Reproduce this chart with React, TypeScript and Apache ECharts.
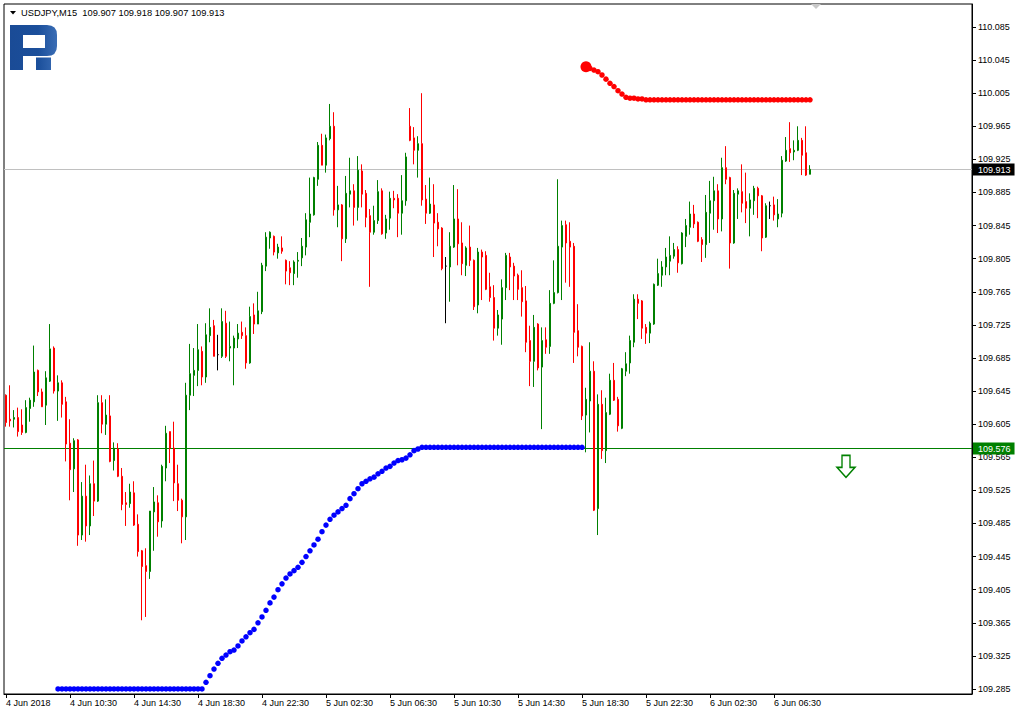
import React, { useEffect, useRef } from "react";
import * as echarts from "echarts";

// ---------- data ----------
const symbolName = "USDJPY,M15";
const lastBarOHLC = [109.907, 109.918, 109.907, 109.913];
const firstBarTime = "2018-06-04T06:30:00Z";
const barMinutes = 15;
const totalSlots = 242; // bars shown + empty chart shift on the right
const xTickLabels = [
  "4 Jun 2018", "4 Jun 10:30", "4 Jun 14:30", "4 Jun 18:30", "4 Jun 22:30",
  "5 Jun 02:30", "5 Jun 06:30", "5 Jun 10:30", "5 Jun 14:30", "5 Jun 18:30",
  "5 Jun 22:30", "6 Jun 02:30", "6 Jun 06:30",
];
const xTickStep = 16;
const yTickValues = [
  109.285, 109.325, 109.365, 109.405, 109.445, 109.485, 109.525, 109.565, 109.605,
  109.645, 109.685, 109.725, 109.765, 109.805, 109.845, 109.885, 109.925, 109.965,
  110.005, 110.045, 110.085,
];
const yMin = 109.2789;
const yMax = 110.1128;
const bidPrice = 109.913;
const levelPrice = 109.576;

const opens = [
  109.640, 109.611, 109.611, 109.613, 109.604, 109.595, 109.624, 109.632, 109.670, 109.644,
  109.628, 109.657, 109.697, 109.645, 109.655, 109.632, 109.582, 109.551, 109.586, 109.471,
  109.518, 109.482, 109.533, 109.512, 109.631, 109.605, 109.615, 109.561, 109.575, 109.542,
  109.510, 109.509, 109.522, 109.484, 109.452, 109.434, 109.427, 109.499, 109.510, 109.488,
  109.552, 109.596, 109.576, 109.533, 109.513, 109.493, 109.640, 109.664, 109.670, 109.693,
  109.662, 109.712, 109.724, 109.689, 109.687, 109.727, 109.697, 109.697, 109.708, 109.716,
  109.712, 109.679, 109.737, 109.726, 109.741, 109.796, 109.830, 109.832, 109.812, 109.818,
  109.803, 109.794, 109.787, 109.802, 109.806, 109.819, 109.849, 109.858, 109.901, 109.942,
  109.918, 109.950, 109.965, 109.864, 109.870, 109.829, 109.883, 109.887, 109.867, 109.911,
  109.884, 109.857, 109.837, 109.851, 109.887, 109.836, 109.854, 109.878, 109.878, 109.860,
  109.875, 109.965, 109.951, 109.936, 109.944, 109.877, 109.860, 109.870, 109.849, 109.842,
  109.796, 109.795, 109.819, 109.853, 109.824, 109.797, 109.819, 109.803, 109.749, 109.813,
  109.809, 109.771, 109.758, 109.721, 109.732, 109.770, 109.807, 109.796, 109.785, 109.770,
  109.754, 109.706, 109.681, 109.726, 109.674, 109.707, 109.699, 109.751, 109.764, 109.819,
  109.846, 109.826, 109.820, 109.718, 109.699, 109.616, 109.633, 109.669, 109.503, 109.629,
  109.573, 109.617, 109.658, 109.635, 109.600, 109.669, 109.679, 109.704, 109.756, 109.754,
  109.722, 109.715, 109.726, 109.773, 109.785, 109.795, 109.802, 109.808, 109.816, 109.799,
  109.832, 109.843, 109.859, 109.849, 109.828, 109.822, 109.860, 109.875, 109.887, 109.853,
  109.915, 109.903, 109.824, 109.883, 109.886, 109.874, 109.866, 109.875, 109.890, 109.881,
  109.831, 109.869, 109.870, 109.853, 109.860, 109.923, 109.938, 109.934, 109.936, 109.948,
  109.933, 109.907,
];
const highs = [
  109.641, 109.652, 109.622, 109.625, 109.623, 109.634, 109.637, 109.700, 109.671, 109.648,
  109.669, 109.726, 109.699, 109.664, 109.658, 109.638, 109.611, 109.588, 109.587, 109.535,
  109.556, 109.543, 109.561, 109.640, 109.640, 109.635, 109.640, 109.583, 109.582, 109.552,
  109.523, 109.533, 109.536, 109.496, 109.453, 109.455, 109.500, 109.529, 109.519, 109.556,
  109.603, 109.596, 109.608, 109.556, 109.515, 109.655, 109.702, 109.697, 109.726, 109.699,
  109.727, 109.745, 109.731, 109.713, 109.745, 109.742, 109.729, 109.712, 109.726, 109.729,
  109.722, 109.747, 109.751, 109.765, 109.800, 109.837, 109.838, 109.833, 109.823, 109.832,
  109.804, 109.802, 109.803, 109.813, 109.830, 109.860, 109.903, 109.904, 109.946, 109.956,
  109.955, 109.992, 109.982, 109.893, 109.871, 109.905, 109.927, 109.895, 109.929, 109.919,
  109.888, 109.865, 109.869, 109.900, 109.890, 109.858, 109.886, 109.887, 109.883, 109.906,
  109.933, 109.987, 109.964, 109.953, 110.005, 109.894, 109.903, 109.895, 109.860, 109.843,
  109.807, 109.837, 109.894, 109.889, 109.849, 109.820, 109.845, 109.804, 109.818, 109.816,
  109.814, 109.788, 109.773, 109.743, 109.780, 109.812, 109.812, 109.800, 109.787, 109.791,
  109.772, 109.724, 109.737, 109.727, 109.722, 109.722, 109.767, 109.803, 109.901, 109.851,
  109.851, 109.849, 109.824, 109.750, 109.700, 109.649, 109.704, 109.681, 109.641, 109.646,
  109.637, 109.666, 109.679, 109.638, 109.673, 109.692, 109.712, 109.762, 109.762, 109.755,
  109.726, 109.729, 109.775, 109.805, 109.802, 109.818, 109.832, 109.824, 109.820, 109.837,
  109.853, 109.874, 109.870, 109.850, 109.831, 109.882, 109.899, 109.904, 109.895, 109.927,
  109.941, 109.904, 109.888, 109.890, 109.919, 109.909, 109.884, 109.893, 109.892, 109.882,
  109.872, 109.874, 109.880, 109.877, 109.929, 109.952, 109.970, 109.948, 109.965, 109.951,
  109.965, 109.918,
];
const lows = [
  109.602, 109.602, 109.601, 109.590, 109.592, 109.594, 109.608, 109.626, 109.639, 109.626,
  109.604, 109.656, 109.642, 109.609, 109.613, 109.560, 109.513, 109.523, 109.458, 109.465,
  109.463, 109.471, 109.494, 109.511, 109.594, 109.592, 109.559, 109.549, 109.541, 109.501,
  109.482, 109.504, 109.482, 109.445, 109.368, 109.372, 109.418, 109.452, 109.469, 109.480,
  109.536, 109.558, 109.512, 109.500, 109.461, 109.465, 109.622, 109.639, 109.651, 109.652,
  109.655, 109.704, 109.687, 109.670, 109.685, 109.685, 109.681, 109.652, 109.697, 109.708,
  109.672, 109.678, 109.714, 109.726, 109.738, 109.790, 109.817, 109.809, 109.805, 109.811,
  109.774, 109.773, 109.773, 109.782, 109.796, 109.809, 109.831, 109.857, 109.893, 109.918,
  109.909, 109.948, 109.857, 109.843, 109.802, 109.824, 109.867, 109.845, 109.851, 109.867,
  109.843, 109.771, 109.834, 109.847, 109.834, 109.829, 109.840, 109.866, 109.831, 109.834,
  109.869, 109.947, 109.919, 109.903, 109.869, 109.847, 109.859, 109.807, 109.820, 109.791,
  109.727, 109.753, 109.818, 109.797, 109.785, 109.784, 109.796, 109.743, 109.739, 109.755,
  109.767, 109.753, 109.706, 109.712, 109.701, 109.755, 109.767, 109.755, 109.755, 109.735,
  109.692, 109.651, 109.650, 109.670, 109.599, 109.690, 109.690, 109.750, 109.763, 109.755,
  109.776, 109.771, 109.679, 109.687, 109.610, 109.571, 109.595, 109.500, 109.471, 109.563,
  109.558, 109.616, 109.633, 109.596, 109.599, 109.663, 109.666, 109.698, 109.732, 109.708,
  109.702, 109.703, 109.725, 109.772, 109.771, 109.785, 109.785, 109.805, 109.788, 109.798,
  109.819, 109.834, 109.842, 109.825, 109.801, 109.806, 109.824, 109.840, 109.836, 109.838,
  109.895, 109.793, 109.823, 109.853, 109.861, 109.848, 109.832, 109.858, 109.854, 109.814,
  109.830, 109.853, 109.851, 109.843, 109.855, 109.922, 109.922, 109.924, 109.935, 109.906,
  109.905, 109.907,
];
const closes = [
  109.607, 109.609, 109.613, 109.596, 109.595, 109.625, 109.634, 109.668, 109.644, 109.626,
  109.661, 109.696, 109.645, 109.655, 109.629, 109.581, 109.550, 109.585, 109.471, 109.518,
  109.482, 109.533, 109.512, 109.631, 109.605, 109.616, 109.560, 109.576, 109.542, 109.508,
  109.508, 109.523, 109.483, 109.451, 109.433, 109.427, 109.500, 109.511, 109.487, 109.554,
  109.594, 109.576, 109.534, 109.513, 109.493, 109.640, 109.666, 109.670, 109.695, 109.662,
  109.713, 109.722, 109.687, 109.689, 109.729, 109.687, 109.699, 109.709, 109.715, 109.712,
  109.679, 109.735, 109.726, 109.742, 109.797, 109.831, 109.837, 109.813, 109.819, 109.814,
  109.790, 109.788, 109.801, 109.803, 109.820, 109.852, 109.859, 109.903, 109.942, 109.918,
  109.951, 109.965, 109.864, 109.870, 109.829, 109.884, 109.887, 109.867, 109.912, 109.883,
  109.855, 109.837, 109.851, 109.886, 109.835, 109.853, 109.878, 109.876, 109.860, 109.875,
  109.928, 109.948, 109.936, 109.944, 109.876, 109.860, 109.871, 109.848, 109.841, 109.793,
  109.796, 109.820, 109.853, 109.823, 109.799, 109.818, 109.803, 109.747, 109.813, 109.807,
  109.768, 109.758, 109.721, 109.737, 109.770, 109.809, 109.795, 109.784, 109.768, 109.753,
  109.704, 109.681, 109.722, 109.673, 109.706, 109.698, 109.751, 109.764, 109.820, 109.845,
  109.824, 109.819, 109.716, 109.698, 109.615, 109.635, 109.669, 109.501, 109.629, 109.573,
  109.619, 109.658, 109.634, 109.603, 109.672, 109.678, 109.706, 109.756, 109.751, 109.721,
  109.715, 109.727, 109.774, 109.787, 109.795, 109.807, 109.809, 109.816, 109.800, 109.836,
  109.845, 109.859, 109.847, 109.826, 109.822, 109.861, 109.875, 109.887, 109.853, 109.915,
  109.901, 109.824, 109.884, 109.887, 109.872, 109.866, 109.876, 109.890, 109.881, 109.830,
  109.869, 109.869, 109.858, 109.859, 109.924, 109.936, 109.933, 109.936, 109.948, 109.930,
  109.906, 109.913,
];

// blue trailing dots (start at bar 13)
const blueStart = 13;
const blueDots = [
  109.285, 109.285, 109.285, 109.285, 109.285, 109.285, 109.285, 109.285, 109.285, 109.285,
  109.285, 109.285, 109.285, 109.285, 109.285, 109.285, 109.285, 109.285, 109.285, 109.285,
  109.285, 109.285, 109.285, 109.285, 109.285, 109.285, 109.285, 109.285, 109.285, 109.285,
  109.285, 109.285, 109.285, 109.285, 109.285, 109.285, 109.285,
  109.293, 109.301, 109.309, 109.316, 109.322, 109.326, 109.330, 109.332, 109.337, 109.343,
  109.348, 109.353, 109.357, 109.365, 109.372, 109.380, 109.389, 109.396, 109.405, 109.412,
  109.419, 109.424, 109.428, 109.432, 109.438, 109.445, 109.452, 109.459, 109.466, 109.475,
  109.483, 109.490, 109.495, 109.499, 109.503, 109.507, 109.515, 109.521, 109.527, 109.533,
  109.536, 109.539, 109.541, 109.545, 109.548, 109.552, 109.554, 109.558, 109.561, 109.562,
  109.564, 109.568, 109.573, 109.575,
  109.577, 109.577, 109.577, 109.577, 109.577, 109.577, 109.577, 109.577, 109.577, 109.577,
  109.577, 109.577, 109.577, 109.577, 109.577, 109.577, 109.577, 109.577, 109.577, 109.577,
  109.577, 109.577, 109.577, 109.577, 109.577, 109.577, 109.577, 109.577, 109.577, 109.577,
  109.577, 109.577, 109.577, 109.577, 109.577, 109.577, 109.577, 109.577, 109.577, 109.577,
  109.577,
];
// red trailing dots (start at bar 145)
const redStart = 145;
const redDots = [
  110.037, 110.035, 110.033, 110.031, 110.027, 110.022, 110.017, 110.013, 110.008, 110.004,
  110.000, 109.999, 109.999, 109.998, 109.998,
  109.997, 109.997, 109.997, 109.997, 109.997, 109.997, 109.997, 109.997, 109.997, 109.997,
  109.997, 109.997, 109.997, 109.997, 109.997, 109.997, 109.997, 109.997, 109.997, 109.997,
  109.997, 109.997, 109.997, 109.997, 109.997, 109.997, 109.997, 109.997, 109.997, 109.997,
  109.997, 109.997, 109.997, 109.997, 109.997, 109.997, 109.997, 109.997, 109.997, 109.997,
  109.997, 109.997,
];
// sell arrow object
const arrowBar = 210;
const arrowPrice = 109.554;

// ---------- shapes ----------
const LOGO_D =
  "M0 0H37Q47 0 47 10V21Q47 31 37 31H13V45H0Z M13 10V23H35V10Z M26 32.5H41V45H26Z";
echarts.graphic.registerShape("rfLogo", echarts.graphic.extendPath(LOGO_D, {}) as any);

const FONT = "'Liberation Sans', Arial, sans-serif";

function buildCategories(): string[] {
  const out: string[] = [];
  const t0 = Date.parse(firstBarTime);
  for (let k = 0; k < totalSlots; k++) {
    const d = new Date(t0 + k * barMinutes * 60000);
    const hh = String(d.getUTCHours()).padStart(2, "0");
    const mm = String(d.getUTCMinutes()).padStart(2, "0");
    out.push(`${d.getUTCDate()} Jun ${hh}:${mm}`);
  }
  return out;
}

const GRID = { left: 4, right: 44, top: 4, bottom: 20 };
const W = 1016;

export default function App() {
  const ref = useRef<HTMLDivElement>(null);
  useEffect(() => {
    if (!ref.current) return;
    const chart = echarts.init(ref.current, null, { renderer: "svg" });
    const cats = buildCategories();
    const candles = opens.map((o, i) => [o, closes[i], lows[i], highs[i]]);
    const showTick = (index: number) =>
      index % xTickStep === 0 && index / xTickStep < xTickLabels.length;
    const blueData = blueDots.map((v, k) => [blueStart + k, v]);
    const redData = redDots.map((v, k) => [redStart + k, v]);

    const header = `${symbolName}  ${lastBarOHLC.map((v) => v.toFixed(3)).join(" ")}`;

    const logoFill = new echarts.graphic.LinearGradient(0, 0, 1, 0, [
      { offset: 0, color: "#1a4b96" },
      { offset: 0.6, color: "#1b4f9b" },
      { offset: 1, color: "#3a6db5" },
    ]);

    const baseGraphic: any[] = [
      { id: "hdrTri", type: "polygon", shape: { points: [[10, 11], [16, 11], [13, 14.5]] }, style: { fill: "#000" } },
      {
        id: "hdrText",
        type: "text",
        x: 21,
        y: 12.5,
        style: { text: header, fontSize: 9.3, fontFamily: FONT, fill: "#000", verticalAlign: "middle", align: "left" },
      },
      { id: "logo", type: "rfLogo", x: 10, y: 25, style: { fill: logoFill } },
      { id: "shift", type: "polygon", shape: { points: [[811, 4], [821, 4], [816, 9]] }, style: { fill: "#c8c8c8" } },
    ];

    chart.setOption({
      animation: false,
      backgroundColor: "#ffffff",
      grid: {
        ...GRID,
        show: true,
        borderColor: "#000000",
        borderWidth: 1,
        backgroundColor: "transparent",
      },
      xAxis: {
        type: "category",
        data: cats,
        boundaryGap: true,
        axisLine: { show: true, lineStyle: { color: "#000", width: 1 } },
        axisTick: {
          show: true,
          interval: (i: number) => showTick(i),
          alignWithLabel: true,
          length: 4,
          lineStyle: { color: "#000" },
        },
        axisLabel: {
          interval: (i: number) => showTick(i),
          formatter: (_v: string, i: number) => xTickLabels[i / xTickStep] ?? "",
          align: "left",
          margin: 4,
          fontSize: 9,
          fontFamily: FONT,
          color: "#000",
        },
        splitLine: { show: false },
      },
      yAxis: {
        type: "value",
        position: "right",
        min: yMin,
        max: yMax,
        axisLine: { show: true, lineStyle: { color: "#000", width: 1 } },
        axisTick: { show: true, length: 4, lineStyle: { color: "#000" }, customValues: yTickValues },
        axisLabel: {
          customValues: yTickValues,
          formatter: (v: number) => v.toFixed(3),
          margin: 6,
          fontSize: 9,
          fontFamily: FONT,
          color: "#000",
        },
        splitLine: { show: false },
      },
      series: [
        {
          type: "candlestick",
          data: candles,
          barWidth: 2,
          itemStyle: {
            color: "#008000",
            color0: "#ff0000",
            borderColor: "#008000",
            borderColor0: "#ff0000",
            borderColorDoji: "#000000",
            borderWidth: 1,
          },
        },
        {
          type: "scatter",
          data: [[arrowBar, arrowPrice]],
          symbol: "path://M5,0 L13,0 L13,12 L18,12 L9,22 L0,12 L5,12 Z",
          symbolSize: [18, 22],
          itemStyle: { color: "#ffffff", borderColor: "#008000", borderWidth: 1.5, opacity: 1 },
          silent: true,
          z: 3,
        },
        {
          type: "scatter",
          data: blueData,
          symbol: "circle",
          symbolSize: 5.5,
          itemStyle: { color: "#0000ff", opacity: 1 },
          silent: true,
          z: 4,
        },
        {
          type: "scatter",
          data: redData,
          symbol: "circle",
          symbolSize: (_v: any, p: any) => (p.dataIndex === 0 ? 11 : 5.5),
          itemStyle: { color: "#ff0000", opacity: 1 },
          silent: true,
          z: 4,
        },
      ],
      graphic: baseGraphic,
    });

    // horizontal price lines placed through the value axis scale
    const plotLeft = GRID.left;
    const plotRight = W - GRID.right;
    const priceLine = (id: string, price: number, stroke: string, box: string) => {
      const py = chart.convertToPixel({ yAxisIndex: 0 }, price) as number;
      const y = Math.round(py) + 0.5;
      return [
        {
          id: id + "Line",
          type: "line",
          shape: { x1: plotLeft, y1: y, x2: plotRight, y2: y },
          style: { stroke, lineWidth: 1 },
          z: 2,
          silent: true,
        },
        {
          id: id + "Box",
          type: "text",
          x: plotRight + 1,
          y: y,
          z: 10,
          style: {
            text: price.toFixed(3),
            fontSize: 9,
            fontFamily: FONT,
            fill: "#ffffff",
            backgroundColor: box,
            padding: [2, 4, 1, 5],
            verticalAlign: "middle",
            align: "left",
          },
        },
      ];
    };
    chart.setOption({
      graphic: [
        ...baseGraphic,
        ...priceLine("bid", bidPrice, "#c0c0c0", "#000000"),
        ...priceLine("lvl", levelPrice, "#008000", "#008000"),
      ],
    });
    return () => chart.dispose();
  }, []);
  return (
    <div
      ref={ref}
      style={{ position: "fixed", left: 0, top: 0, width: 1016, height: 714, background: "#fff" }}
    />
  );
}
